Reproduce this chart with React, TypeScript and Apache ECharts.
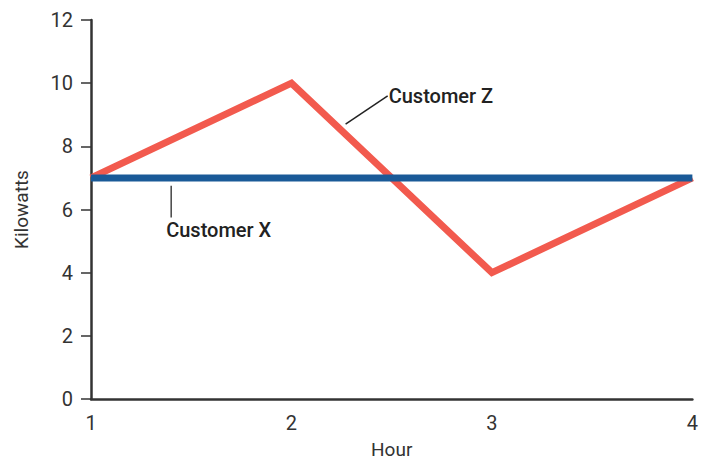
import React, { useEffect, useRef } from "react";
import * as echarts from "echarts";

// Hourly load for two customers
const hours = [1, 2, 3, 4];
const customerZ = [7, 10, 4, 7];
const customerX = [7, 7, 7, 7];
const yTicks = { min: 0, max: 12, interval: 2 };

// Label anchors in data space: [leader start, leader end]
const zLeader = [[2.27, 8.7], [2.48, 9.6]];
const xLeader = [[1.4, 6.75], [1.4, 5.75]];

const FONT = "Roboto, 'Noto Sans', sans-serif";

export default function App() {
  const ref = useRef<HTMLDivElement>(null);

  useEffect(() => {
    if (!ref.current) return;
    const chart = echarts.init(ref.current, undefined, { renderer: "svg" });

    chart.setOption({
      animation: false,
      backgroundColor: "#ffffff",
      grid: { left: 91, right: 4, top: 20, bottom: 60, containLabel: false },
      xAxis: {
        type: "value",
        min: 1,
        max: 4,
        interval: 1,
        name: "Hour",
        nameLocation: "middle",
        nameGap: 41,
        nameTextStyle: { fontFamily: FONT, fontSize: 19, color: "#333" },
        axisLine: { lineStyle: { color: "#333", width: 2.5 } },
        axisTick: { show: false },
        splitLine: { show: false },
        axisLabel: { fontFamily: FONT, fontSize: 20, color: "#333", margin: 14 },
      },
      yAxis: {
        type: "value",
        min: yTicks.min,
        max: yTicks.max,
        interval: yTicks.interval,
        name: "Kilowatts",
        nameLocation: "middle",
        nameGap: 60,
        nameRotate: 90,
        nameTextStyle: { fontFamily: FONT, fontSize: 19, color: "#333" },
        axisLine: { show: true, lineStyle: { color: "#333", width: 2.5 } },
        axisTick: { show: true, length: 10, lineStyle: { color: "#333", width: 1.5 } },
        splitLine: { show: false },
        axisLabel: { fontFamily: FONT, fontSize: 20, color: "#333", margin: 18 },
      },
      series: [
        {
          name: "Customer Z",
          type: "line",
          data: hours.map((h, i) => [h, customerZ[i]]),
          symbol: "none",
          lineStyle: { color: "#f25a4e", width: 7, cap: "butt", join: "miter" },
          z: 2,
        },
        {
          name: "Customer X",
          type: "line",
          data: hours.map((h, i) => [h, customerX[i]]),
          symbol: "none",
          lineStyle: { color: "#1a5a98", width: 7, cap: "butt" },
          z: 3,
        },
      ],
    });

    const px = (p: number[]) => chart.convertToPixel({ gridIndex: 0 }, p) as number[];
    const z0 = px(zLeader[0]);
    const z1 = px(zLeader[1]);
    const x0 = px(xLeader[0]);
    const x1 = px(xLeader[1]);

    chart.setOption({
      graphic: [
        {
          type: "line",
          shape: { x1: z0[0], y1: z0[1], x2: z1[0], y2: z1[1] },
          style: { stroke: "#222", lineWidth: 1.5 },
          z: 10,
        },
        {
          type: "text",
          x: z1[0] + 1,
          y: z1[1],
          style: {
            text: "Customer Z",
            fontFamily: FONT,
            fontSize: 20,
            fontWeight: 500,
            fill: "#222",
            verticalAlign: "middle",
            align: "left",
          },
          z: 10,
        },
        {
          type: "line",
          shape: { x1: x0[0], y1: x0[1], x2: x1[0], y2: x1[1] },
          style: { stroke: "#444", lineWidth: 1.5 },
          z: 10,
        },
        {
          type: "text",
          x: x1[0] - 5,
          y: x1[1] + 3,
          style: {
            text: "Customer X",
            fontFamily: FONT,
            fontSize: 20,
            fontWeight: 500,
            fill: "#222",
            verticalAlign: "top",
            align: "left",
          },
          z: 10,
        },
      ],
    });

    return () => chart.dispose();
  }, []);

  return <div ref={ref} style={{ width: 701, height: 464, position: "absolute", left: 0, top: 0 }} />;
}
